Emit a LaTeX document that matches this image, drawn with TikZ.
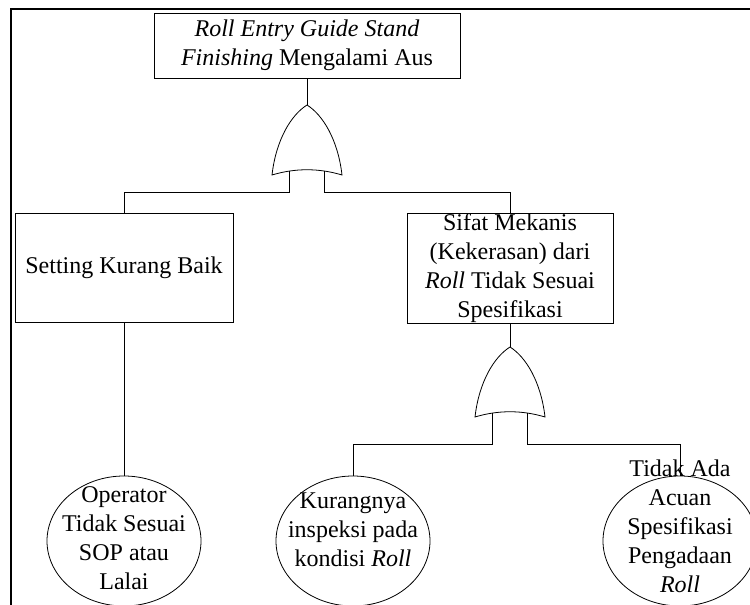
\documentclass[tikz,border=0pt]{standalone}
\usepackage{fontspec}
\setmainfont{Liberation Serif}
\usetikzlibrary{shapes.geometric}

% or gate, apex at (#1,#2)
\newcommand{\orgatepath}[2]{%
\draw[gateline] ({#1-35},{#2+70}) .. controls ({#1-31},{#2+35}) and ({#1-16},{#2+10}) .. (#1,#2)
  .. controls ({#1+16},{#2+10}) and ({#1+31},{#2+35}) .. ({#1+35},{#2+70})
  .. controls ({#1+12},{#2+63}) and ({#1-12},{#2+63}) .. cycle;}

\begin{document}
\begin{tikzpicture}[x=1pt,y=-1pt,
  font=\fontsize{24}{29}\selectfont,
  box/.style={draw,rectangle,line width=0.8pt,align=center,inner sep=0pt},
  leaf/.style={draw,ellipse,line width=0.8pt,inner sep=0pt,minimum width=154pt,minimum height=130pt},
  gateline/.style={line width=0.8pt},
  link/.style={line width=0.8pt}]
\useasboundingbox (0,0) rectangle (750,605);
\draw[line width=2pt] (750,9) -- (11,9) -- (11,605);

% top event
\node[box,minimum width=306pt,minimum height=65pt] (top) at (307,45.5)
  {\textit{Roll Entry Guide Stand}\\\textit{Finishing} Mengalami Aus};
\orgatepath{307}{105}
\coordinate (g1) at (307,105);
\coordinate (g1l) at (289.5,171);
\coordinate (g1r) at (324.5,171);

% intermediate events
\node[box,minimum width=218pt,minimum height=109pt] (setting) at (124,267.5) {Setting Kurang Baik};
\node[box,minimum width=206pt,minimum height=110pt] (sifat) at (510,268)
  {Sifat Mekanis\\(Kekerasan) dari\\\textit{Roll} Tidak Sesuai\\Spesifikasi};
\orgatepath{510}{347}
\coordinate (g2) at (510,347);
\coordinate (g2l) at (492.5,413);
\coordinate (g2r) at (527.5,413);

% basic events
\node[leaf] (op) at (124,541) {};
\node[align=center] (optext) at (124,538) {Operator\\Tidak Sesuai\\SOP atau\\Lalai};
\node[leaf] (insp) at (353,541) {};
\node[align=center] (insptext) at (353,530) {Kurangnya\\inspeksi pada\\kondisi \textit{Roll}};
\node[leaf] (acuan) at (680,541) {};
\node[align=center] (acuantext) at (680,526) {Tidak Ada\\Acuan\\Spesifikasi\\Pengadaan\\\textit{Roll}};

% connectors
\draw[link] (top.south) -- (g1);
\draw[link] (g1l) -- ++(0,21) -| (setting.north);
\draw[link] (g1r) -- ++(0,21) -| (sifat.north);
\draw[link] (setting.south) -- (op.north);
\draw[link] (sifat.south) -- (g2);
\draw[link] (g2l) -- ++(0,31) -| (insp.north);
\draw[link] (g2r) -- ++(0,31) -| (acuan.north);
\end{tikzpicture}
\end{document}
